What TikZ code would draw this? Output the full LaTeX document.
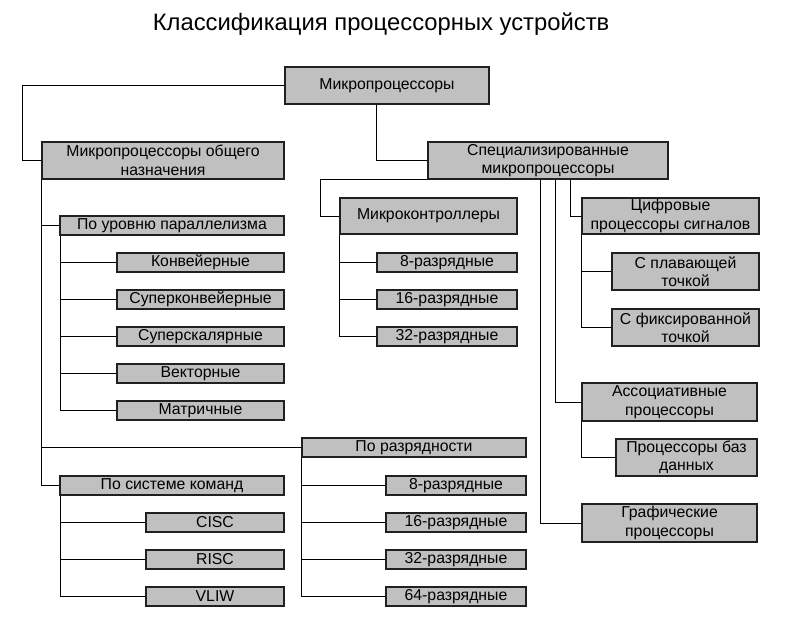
\documentclass[tikz,border=0pt]{standalone}
\usepackage{fontspec}
\setmainfont{Liberation Sans}
\definecolor{boxfill}{HTML}{C0C0C0}
\definecolor{boxline}{HTML}{202020}
\tikzset{
  box/.style={draw=boxline, fill=boxfill, line width=1.3pt, inner sep=0pt, align=center,
    font=\fontsize{15.8}{18.5}\selectfont},
  conn/.style={draw=black, line width=1pt},
}
\newcommand\bx[6]{\node[box, minimum width={(#4-#2)*1pt}, minimum height={(#5-#3)*1pt}] (#1) at ({(#2+#4)/2},{(#3+#5)/2}) {#6};}
\begin{document}
\begin{tikzpicture}[x=1pt,y=-1pt]
\useasboundingbox[fill=white] (0,0) rectangle (797,618);
\node[font=\fontsize{23.8}{27}\selectfont] (title) at (381,24) {Классификация процессорных устройств};

\bx{mp}{285}{67}{489}{104}{Микропроцессоры}
\bx{gen}{42}{142}{284}{179}{Микропроцессоры общего\\назначения}
\bx{spec}{428}{142}{668}{179}{Специализированные\\микропроцессоры}
\bx{par}{60}{216}{284}{235}{По уровню параллелизма}
\bx{p1}{117}{253}{284}{272}{Конвейерные}
\bx{p2}{117}{290}{284}{309}{Суперконвейерные}
\bx{p3}{117}{327}{284}{346}{Суперскалярные}
\bx{p4}{117}{364}{284}{383}{Векторные}
\bx{p5}{117}{401}{284}{420}{Матричные}
\bx{razr}{302}{438}{526}{457}{По разрядности}
\bx{r1}{386}{476}{526}{495}{8-разрядные}
\bx{r2}{386}{513}{526}{532}{16-разрядные}
\bx{r3}{386}{550}{526}{569}{32-разрядные}
\bx{r4}{386}{587}{526}{606}{64-разрядные}
\bx{cmd}{60}{476}{284}{495}{По системе команд}
\bx{c1}{146}{513}{284}{532}{CISC}
\bx{c2}{146}{550}{284}{569}{RISC}
\bx{c3}{146}{587}{284}{606}{VLIW}
\bx{mc}{340}{198}{517}{234}{Микроконтроллеры}
\bx{m1}{377}{253}{517}{272}{8-разрядные}
\bx{m2}{377}{290}{517}{309}{16-разрядные}
\bx{m3}{377}{327}{517}{346}{32-разрядные}
\bx{dsp}{582}{198}{759}{234}{Цифровые\\процессоры сигналов}
\bx{d1}{612}{253}{759}{290}{С плавающей\\точкой}
\bx{d2}{612}{309}{759}{346}{С фиксированной\\точкой}
\bx{assoc}{582}{383}{757}{421}{Ассоциативные\\процессоры}
\bx{db}{616}{439}{757}{476}{Процессоры баз\\данных}
\bx{gr}{582}{504}{757}{542}{Графические\\процессоры}

% top level
\draw[conn] (mp.west) -- ++(-262,0) |- (gen.west);
\draw[conn] ([xshift=92pt]mp.south west) |- (spec.west);
% general purpose
\draw[conn] (gen.south west) |- (cmd.west);
\draw[conn] (par.west) -- (par.west -| gen.west);
\draw[conn] (razr.west) -- (razr.west -| gen.west);
\draw[conn] ([xshift=1pt]par.south west) |- (p5.west);
\foreach \n in {p1,p2,p3,p4}{\draw[conn] (\n.west) -- ([xshift=1pt]\n.west -| par.west);}
\draw[conn] ([xshift=1pt]cmd.south west) |- (c3.west);
\foreach \n in {c1,c2}{\draw[conn] (\n.west) -- ([xshift=1pt]\n.west -| cmd.west);}
\draw[conn] (razr.south west) |- (r4.west);
\foreach \n in {r1,r2,r3}{\draw[conn] (\n.west) -- (\n.west -| razr.west);}
% specialised
\draw[conn] (spec.south west) -- ++(-107,0) |- (mc.west);
\draw[conn] (mc.south west) |- (m3.west);
\foreach \n in {m1,m2}{\draw[conn] (\n.west) -- (\n.west -| mc.west);}
\draw[conn] (dsp.west) -| ([xshift=143pt]spec.south west);
\draw[conn] (assoc.west) -| ([xshift=128pt]spec.south west);
\draw[conn] (gr.west) -| ([xshift=113pt]spec.south west);
\draw[conn] (dsp.south west) |- (d2.west);
\draw[conn] (d1.west) -- (d1.west -| dsp.west);
\draw[conn] (assoc.south west) |- (db.west);
\end{tikzpicture}
\end{document}
